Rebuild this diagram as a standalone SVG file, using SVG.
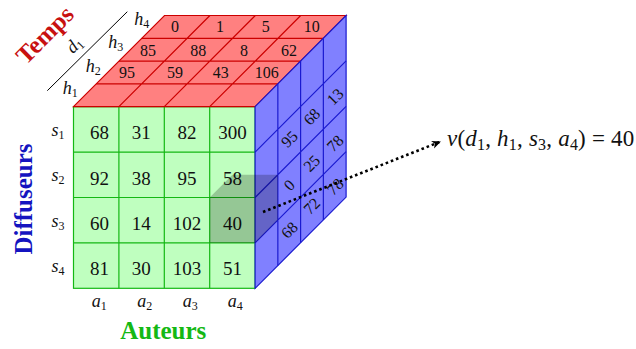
<svg xmlns="http://www.w3.org/2000/svg" width="636" height="349" viewBox="0 0 636 349">
<defs>
<style>
.front{fill:#bfffbf;stroke:#14b814;stroke-width:1.2}
.gl{stroke:#14b814;stroke-width:1.2;fill:none}
.top{fill:#ff8080;stroke:#cc0000;stroke-width:1.2}
.tl{stroke:#cc0000;stroke-width:1.2;fill:none}
.right{fill:#8080ff;stroke:#1a1ad0;stroke-width:1.2}
.rl{stroke:#1a1ad0;stroke-width:1.2;fill:none}
text{font-family:"Liberation Serif","DejaVu Serif",serif;fill:#111}
.cv{font-size:19px;text-anchor:middle}
.tv{font-size:16px;text-anchor:middle}
.rv{font-size:16px;text-anchor:middle}
.lab{font-size:18px;font-style:italic}
.sub{font-size:12px;font-style:normal}
.title{font-size:25px;font-weight:bold;text-anchor:middle}
</style>
<marker id="arr" markerWidth="10" markerHeight="10" refX="8" refY="4" orient="auto" markerUnits="userSpaceOnUse">
<path d="M0,0 L9,4 L0,8 L2.5,4 Z" fill="#000"/>
</marker>
</defs>
<rect width="636" height="349" fill="#fff"/>

<g id="front-face">
<rect class="front" x="73.5" y="106.7" width="181.6" height="181.6"/>
<path class="gl" d="M118.9,106.7V288.3M164.3,106.7V288.3M209.7,106.7V288.3M73.5,152.1H255.1M73.5,197.5H255.1M73.5,242.9H255.1"/>
<text class="cv" x="99.5" y="139.2">68</text><text class="cv" x="141.3" y="139.2">31</text><text class="cv" x="187" y="139.2">82</text><text class="cv" x="232.5" y="139.2">300</text>
<text class="cv" x="99.5" y="184.6">92</text><text class="cv" x="141.3" y="184.6">38</text><text class="cv" x="187" y="184.6">95</text><text class="cv" x="232.5" y="184.6">58</text>
<text class="cv" x="99.5" y="230">60</text><text class="cv" x="141.3" y="230">14</text><text class="cv" x="187" y="230">102</text><text class="cv" x="232.5" y="230">40</text>
<text class="cv" x="99.5" y="275.4">81</text><text class="cv" x="141.3" y="275.4">30</text><text class="cv" x="187" y="275.4">103</text><text class="cv" x="232.5" y="275.4">51</text>
</g>

<g id="top-face">
<polygon class="top" points="73.5,106.7 255.1,106.7 346.1,15.5 164.5,15.5"/>
<path class="tl" d="M96.25,83.9H277.85M119,61.1H300.6M141.75,38.3H323.35M118.9,106.7L209.9,15.5M164.3,106.7L255.3,15.5M209.7,106.7L300.7,15.5"/>
<text class="tv" x="127" y="78.3">95</text><text class="tv" x="175" y="78.3">59</text><text class="tv" x="220.7" y="78.3">43</text><text class="tv" x="266.7" y="78.3">106</text>
<text class="tv" x="148" y="55.7">85</text><text class="tv" x="198.3" y="55.7">88</text><text class="tv" x="244" y="55.7">8</text><text class="tv" x="289" y="55.7">62</text>
<text class="tv" x="175" y="32.3">0</text><text class="tv" x="220" y="32.3">1</text><text class="tv" x="265.7" y="32.3">5</text><text class="tv" x="311.7" y="32.3">10</text>
</g>

<g id="right-face">
<polygon class="right" points="255.1,106.7 346.1,15.5 346.1,197.1 255.1,288.3"/>
<path class="rl" d="M277.85,83.9V265.5M300.6,61.1V242.7M323.35,38.3V219.9M255.1,152.1L346.1,60.9M255.1,197.5L346.1,106.3M255.1,242.9L346.1,151.7"/>
<g transform="translate(289.3,139) rotate(-45)"><text class="rv" y="5.5">95</text></g>
<g transform="translate(289.3,185) rotate(-45)"><text class="rv" y="5.5">0</text></g>
<g transform="translate(289.3,230) rotate(-45)"><text class="rv" y="5.5">68</text></g>
<g transform="translate(311.7,116.7) rotate(-45)"><text class="rv" y="5.5">68</text></g>
<g transform="translate(311.7,163.3) rotate(-45)"><text class="rv" y="5.5">25</text></g>
<g transform="translate(311.7,206) rotate(-45)"><text class="rv" y="5.5">72</text></g>
<g transform="translate(335,96.7) rotate(-45)"><text class="rv" y="5.5">13</text></g>
<g transform="translate(335,143.3) rotate(-45)"><text class="rv" y="5.5">78</text></g>
<g transform="translate(335,186.7) rotate(-45)"><text class="rv" y="5.5">78</text></g>
</g>

<g id="highlight">
<polygon points="209.7,242.9 209.7,197.5 232.45,174.7 277.85,174.7 277.85,220.1 255.1,242.9" fill="#000" fill-opacity="0.22"/>
</g>

<g id="row-labels">
<text class="lab" x="51.5" y="135.5">s<tspan class="sub" dy="3">1</tspan></text>
<text class="lab" x="51.5" y="181">s<tspan class="sub" dy="3">2</tspan></text>
<text class="lab" x="51.5" y="226.5">s<tspan class="sub" dy="3">3</tspan></text>
<text class="lab" x="51.5" y="272">s<tspan class="sub" dy="3">4</tspan></text>
</g>

<g id="col-labels">
<text class="lab" x="91.7" y="306.5">a<tspan class="sub" dy="3">1</tspan></text>
<text class="lab" x="137.3" y="306.5">a<tspan class="sub" dy="3">2</tspan></text>
<text class="lab" x="182.7" y="306.5">a<tspan class="sub" dy="3">3</tspan></text>
<text class="lab" x="227.7" y="306.5">a<tspan class="sub" dy="3">4</tspan></text>
</g>

<g id="depth-labels">
<line x1="47.3" y1="90.7" x2="127.3" y2="11.7" stroke="#000" stroke-width="1"/>
<text class="lab" x="62.7" y="94.3">h<tspan class="sub" dy="3">1</tspan></text>
<text class="lab" x="85.7" y="71.7">h<tspan class="sub" dy="3">2</tspan></text>
<text class="lab" x="108.3" y="48.3">h<tspan class="sub" dy="3">3</tspan></text>
<text class="lab" x="134.3" y="25">h<tspan class="sub" dy="3">4</tspan></text>
<g transform="translate(75,45) rotate(-45)"><text class="lab" x="-8" y="5">d<tspan class="sub" dy="3">1</tspan></text></g>
</g>

<g id="titles">
<text class="title" transform="translate(45,35) rotate(-45)" y="8" style="fill:#c81010">Temps</text>
<text class="title" transform="translate(24,199) rotate(-90)" y="8" style="fill:#1414c0">Diffuseurs</text>
<text class="title" x="163.3" y="339" style="fill:#14b814">Auteurs</text>
</g>

<g id="connectors">
<line x1="263" y1="212" x2="440" y2="141.8" stroke="#000" stroke-width="2.6" stroke-dasharray="2.6 2.9" marker-end="url(#arr)"/>
</g>

<g id="formula">
<text x="447" y="146" style="font-size:23px;letter-spacing:0.2px"><tspan font-style="italic">v</tspan>(<tspan font-style="italic">d</tspan><tspan font-size="16" dy="3.5">1</tspan><tspan dy="-3.5">, </tspan><tspan font-style="italic">h</tspan><tspan font-size="16" dy="3.5">1</tspan><tspan dy="-3.5">, </tspan><tspan font-style="italic">s</tspan><tspan font-size="16" dy="3.5">3</tspan><tspan dy="-3.5">, </tspan><tspan font-style="italic">a</tspan><tspan font-size="16" dy="3.5">4</tspan><tspan dy="-3.5">) = 40</tspan></text>
</g>
</svg>
